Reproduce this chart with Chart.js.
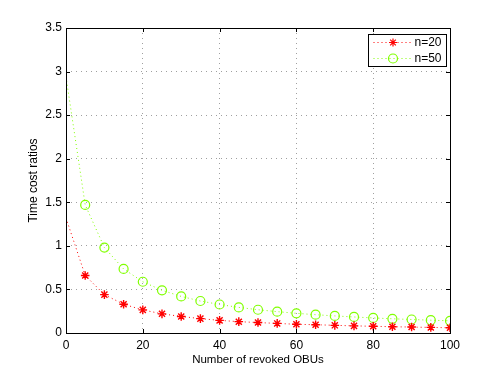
<!DOCTYPE html>
<html><head><meta charset="utf-8">
<script src="https://cdn.jsdelivr.net/npm/chart.js@4/dist/chart.umd.min.js"></script>
<style>html,body{margin:0;padding:0;background:#fff}#wrap{width:498px;height:375px}</style>
</head><body><div id="wrap"><canvas id="c" width="498" height="375"></canvas></div>
<script>
const revokedOBUs = [0,5,10,15,20,25,30,35,40,45,50,55,60,65,70,75,80,85,90,95,100];
const ratioN20 = [1.32,0.66,0.44,0.33,0.265,0.22,0.19,0.165,0.145,0.13,0.12,0.11,0.10,0.095,0.088,0.082,0.077,0.072,0.068,0.064,0.06];
const ratioN50 = [2.94,1.47,0.98,0.735,0.588,0.49,0.42,0.367,0.327,0.294,0.267,0.245,0.226,0.21,0.196,0.184,0.173,0.163,0.155,0.147,0.14];
const xTicks = [0,20,40,60,80,100];
const yTicks = [0,0.5,1,1.5,2,2.5,3,3.5];
const seriesNames = ['n=20','n=50'];

const FONT = 'Liberation Sans, Arial, Helvetica, sans-serif';
const RED = '#ff0000', GREEN = '#80ff00';

function pts(ys){ return revokedOBUs.map((x,i)=>({x, y: ys[i]})); }
function radii(r){ return revokedOBUs.map((x,i)=> i===0 ? 0 : r); }

const frame = {
  id:'frame',
  afterDraw(chart){
    const {ctx, chartArea:a, scales} = chart;
    ctx.save();
    ctx.strokeStyle = '#000'; ctx.lineWidth = 1;
    ctx.strokeRect(Math.round(a.left)+0.5, Math.round(a.top)+0.5, Math.round(a.right-a.left), Math.round(a.bottom-a.top));
    ctx.beginPath();
    xTicks.forEach(v=>{
      const px = Math.round(scales.x.getPixelForValue(v))+0.5;
      ctx.moveTo(px, a.bottom); ctx.lineTo(px, a.bottom-4);
      ctx.moveTo(px, a.top); ctx.lineTo(px, a.top+4);
    });
    yTicks.forEach(v=>{
      const py = Math.round(scales.y.getPixelForValue(v))+0.5;
      ctx.moveTo(a.left, py); ctx.lineTo(a.left+4, py);
      ctx.moveTo(a.right, py); ctx.lineTo(a.right-4, py);
    });
    ctx.stroke();
    // legend box
    const bx = 368.5, by = 34.5, bw = 78, bh = 32;
    ctx.fillStyle = '#fff';
    ctx.fillRect(bx, by, bw, bh);
    ctx.strokeStyle = '#000';
    ctx.strokeRect(bx, by, bw, bh);
    const items = [[RED,'star',4,seriesNames[0]],[GREEN,'circle',4.5,seriesNames[1]]];
    items.forEach((it,i)=>{
      const cy = by + 8 + i*16;
      ctx.save();
      ctx.strokeStyle = it[0]; ctx.lineWidth = 1; ctx.setLineDash([1,3]);
      ctx.beginPath(); ctx.moveTo(bx+5, cy); ctx.lineTo(bx+42, cy); ctx.stroke();
      ctx.setLineDash([]);
      ctx.fillStyle = 'rgba(0,0,0,0)';
      ctx.strokeStyle = it[0]; ctx.lineWidth = 1.2;
      Chart.helpers.drawPoint(ctx, {pointStyle: it[1], radius: it[2], borderWidth: 1.2}, bx+24.5, cy);
      ctx.restore();
      ctx.fillStyle = '#000';
      ctx.font = '12px ' + FONT;
      ctx.textBaseline = 'middle'; ctx.textAlign = 'left';
      ctx.fillText(it[3], bx+46, cy+0.5);
    });
    ctx.restore();
  }
};

new Chart(document.getElementById('c'), {
  type: 'line',
  data: {
    datasets: [
      { label: seriesNames[0], data: pts(ratioN20), borderColor: RED, backgroundColor: 'rgba(0,0,0,0)',
        borderWidth: 1, borderDash: [1,3], pointStyle: 'star', pointRadius: radii(4.3), pointBorderColor: RED,
        pointBorderWidth: 1.4, tension: 0, fill: false },
      { label: seriesNames[1], data: pts(ratioN50), borderColor: GREEN, backgroundColor: 'rgba(0,0,0,0)',
        borderWidth: 1, borderDash: [1,3], pointStyle: 'circle', pointRadius: radii(4.5), pointBorderColor: GREEN,
        pointBackgroundColor: 'rgba(0,0,0,0)', pointBorderWidth: 1.2, tension: 0, fill: false }
    ]
  },
  options: {
    responsive: false, animation: false, devicePixelRatio: 1,
    layout: { padding: { left: 0, top: 28, right: 48, bottom: 0 } },
    plugins: { legend: { display: false }, tooltip: { enabled: false } },
    scales: {
      x: {
        type: 'linear', min: 0, max: 100,
        afterBuildTicks: s => { s.ticks = xTicks.map(v=>({value:v})); },
        afterFit: s => { s.height = 42; },
        grid: { color: '#a0a0a0', drawTicks: false, lineWidth: 1 },
        border: { display: false, dash: [1,4] },
        ticks: { color: '#000', font: { family: FONT, size: 12 }, padding: 5, maxRotation: 0, callback: v => String(v) },
        title: { display: true, text: 'Number of revoked OBUs', color: '#000', font: { family: FONT, size: 11.5 }, padding: { top: 0, bottom: 8 } }
      },
      y: {
        type: 'linear', min: 0, max: 3.5,
        afterBuildTicks: s => { s.ticks = yTicks.map(v=>({value:v})); },
        afterFit: s => { s.width = 66; },
        grid: { color: '#a0a0a0', drawTicks: false, lineWidth: 1 },
        border: { display: false, dash: [1,4] },
        ticks: { color: '#000', font: { family: FONT, size: 12 }, padding: 4, callback: v => String(v) },
        title: { display: true, text: 'Time cost ratios', color: '#000', font: { family: FONT, size: 12 }, padding: { top: 26, bottom: 0 } }
      }
    }
  },
  plugins: [frame]
});
</script></body></html>
